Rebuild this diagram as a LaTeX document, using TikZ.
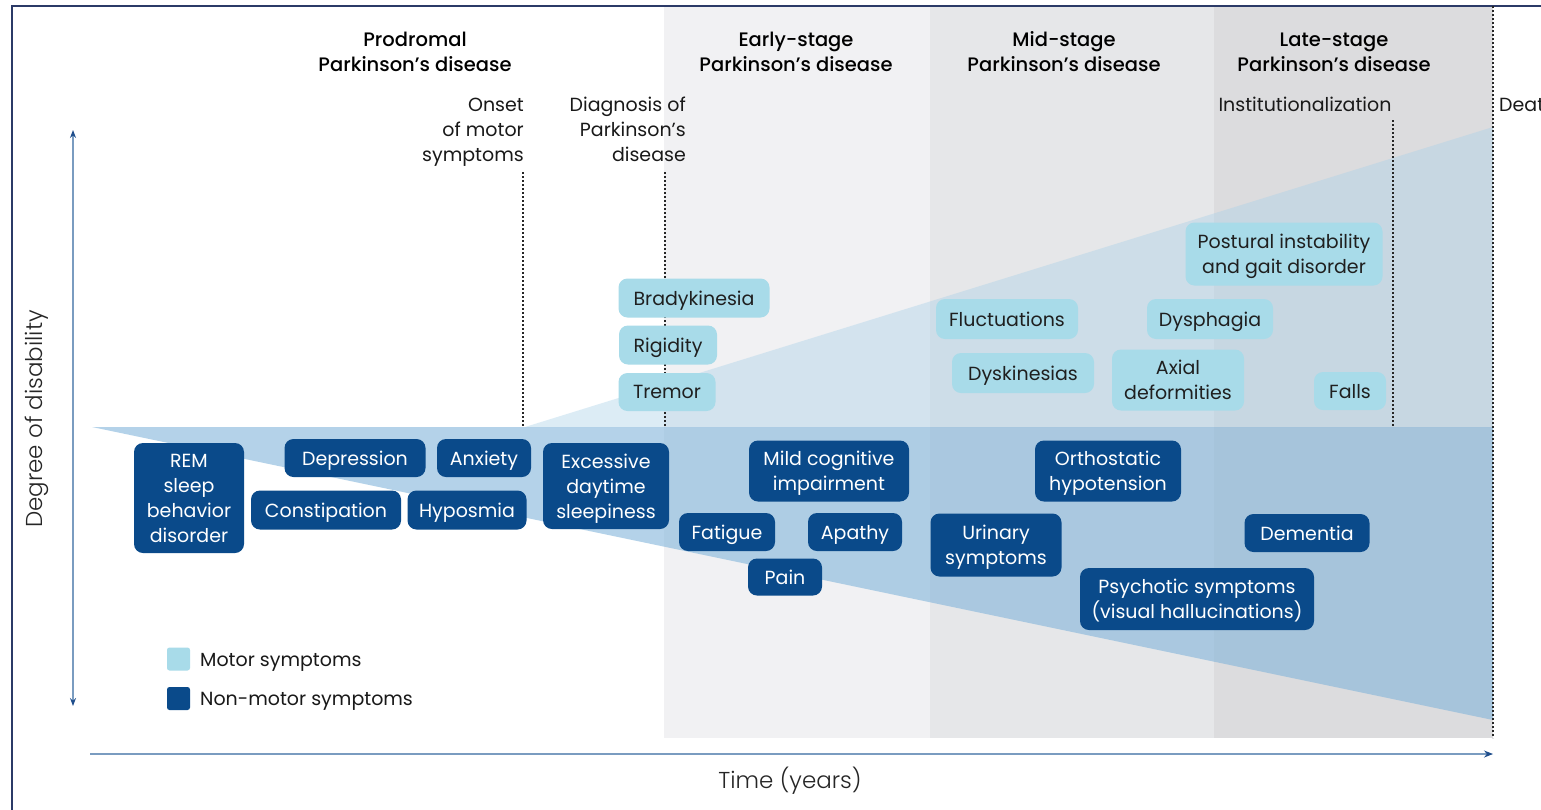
\documentclass[tikz,border=0pt]{standalone}
\usepackage{fontspec}
\setmainfont{Poppins}[BoldFont={Poppins Medium}]
\newfontfamily\plight{Poppins Light}
\usetikzlibrary{arrows.meta}
\definecolor{frame}{HTML}{2B3A67}
\definecolor{earlybg}{HTML}{F1F1F3}
\definecolor{midbg}{HTML}{E6E7E9}
\definecolor{latebg}{HTML}{DCDCDE}
\definecolor{motorc}{HTML}{A8DBE9}
\definecolor{nonmotorc}{HTML}{0A4A8A}
\definecolor{motortri}{HTML}{A8D0E8}
\definecolor{nmshape}{HTML}{7FB3DA}
\definecolor{axisc}{HTML}{7A9CC0}
\definecolor{arrowc}{HTML}{1F4E8C}
\tikzset{
  sym/.style={rounded corners=9pt, align=center, inner sep=0pt, text depth=0pt, font=\fontsize{19}{25}\selectfont},
  motor/.style={sym, fill=motorc, text=black!88},
  nonmotor/.style={sym, fill=nonmotorc, text=white},
  title/.style={font=\bfseries\fontsize{19.5}{25}\selectfont, align=center, text=black},
  event/.style={font=\fontsize{19}{25}\selectfont, text=black!90},
  dotline/.style={line width=1.5pt, dash pattern=on 2pt off 2pt, black!85},
  axisline/.style={line width=1.2pt, axisc},
}
\begin{document}
\begin{tikzpicture}[x=1pt,y=-1pt]
\useasboundingbox (0,0) rectangle (1541,809);
\fill[white] (0,0) rectangle (1541,809);
% stage backgrounds
\fill[earlybg] (664,6) rectangle (930,738);
\fill[midbg] (930,6) rectangle (1214,738);
\fill[latebg] (1214,6) rectangle (1493,738);
% frame
\draw[frame, line width=1.8pt] (12,820) -- (12,6) -- (1560,6);
% disability shapes
\fill[motortri, opacity=0.4] (525,427) -- (1493,127) -- (1493,427) -- cycle;
\fill[nmshape, opacity=0.58] (92,427) -- (1493,427) -- (1493,720) -- cycle;
% dotted event lines
\coordinate (onsetT) at (523,172); \coordinate (onsetB) at (523,427);
\coordinate (diagT) at (665,172); \coordinate (diagB) at (665,427);
\coordinate (instT) at (1393,120); \coordinate (instB) at (1393,427);
\coordinate (deathT) at (1493,6); \coordinate (deathB) at (1493,738);
\draw[dotline] (onsetT) -- (onsetB);
\draw[dotline] (diagT) -- (diagB);
\draw[dotline] (instT) -- (instB);
\draw[dotline] (deathT) -- (deathB);
% axes
\coordinate (yTop) at (73,130); \coordinate (yBot) at (73,706);
\coordinate (xL) at (90,754); \coordinate (xR) at (1493,754);
\draw[axisline, {Stealth[length=8pt,width=6pt,color=arrowc]}-{Stealth[length=8pt,width=6pt,color=arrowc]}] (yBot) -- (yTop);
\draw[axisline, -{Stealth[length=9pt,width=7pt,color=arrowc]}] (xL) -- (xR);
\node[rotate=90, font=\plight\fontsize{23}{27}\selectfont, text=black!85] (ylab) at (37,419) {Degree of disability};
\node[font=\plight\fontsize{23}{27}\selectfont, text=black!85] (xlab) at (790,781) {Time (years)};
% titles
\node[title] (tpro) at (415,52) {Prodromal\\Parkinson’s disease};
\node[title] (tearly) at (796,52) {Early-stage\\Parkinson’s disease};
\node[title] (tmid) at (1064,52) {Mid-stage\\Parkinson’s disease};
\node[title] (tlate) at (1334,52) {Late-stage\\Parkinson’s disease};
% events
\node[event, align=right, anchor=east, inner sep=0pt] (onset) at (524,132) {Onset\\of motor\\symptoms};
\node[event, align=right, anchor=east, inner sep=0pt] (diag) at (686,129.5) {Diagnosis of\\Parkinson’s\\disease};
\node[event] (inst) at (1305,104.5) {Institutionalization};
\node[event, anchor=west, inner sep=0pt] (death) at (1499,104.5) {Death};
% motor symptoms
\node[motor, minimum width=151pt, minimum height=39pt] (brady) at (694,298) {Bradykinesia};
\node[motor, minimum width=98pt, minimum height=39pt] (rigid) at (668,345) {Rigidity};
\node[motor, minimum width=97pt, minimum height=38pt] (tremor) at (667,392) {Tremor};
\node[motor, minimum width=197pt, minimum height=63pt] (postural) at (1284,254) {Postural instability\\and gait disorder};
\node[motor, minimum width=142pt, minimum height=40pt] (fluct) at (1007,319) {Fluctuations};
\node[motor, minimum width=126pt, minimum height=40pt] (dysph) at (1210,319) {Dysphagia};
\node[motor, minimum width=142pt, minimum height=40pt] (dyskin) at (1023,373) {Dyskinesias};
\node[motor, minimum width=132pt, minimum height=61pt] (axial) at (1178,380) {Axial\\deformities};
\node[motor, minimum width=72pt, minimum height=38pt] (falls) at (1350,391) {Falls};
% non-motor symptoms
\node[nonmotor, minimum width=110pt, minimum height=110pt] (rem) at (189,498) {REM\\sleep\\behavior\\disorder};
\node[nonmotor, minimum width=141pt, minimum height=38pt] (depr) at (355,458) {Depression};
\node[nonmotor, minimum width=94pt, minimum height=38pt] (anx) at (484,458) {Anxiety};
\node[nonmotor, minimum width=150pt, minimum height=39pt] (const) at (326,510) {Constipation};
\node[nonmotor, minimum width=119pt, minimum height=39pt] (hypos) at (467,510) {Hyposmia};
\node[nonmotor, minimum width=126pt, minimum height=86pt] (eds) at (606,486) {Excessive\\daytime\\sleepiness};
\node[nonmotor, minimum width=160pt, minimum height=61pt] (mci) at (829,471) {Mild cognitive\\impairment};
\node[nonmotor, minimum width=96pt, minimum height=38pt] (fatig) at (727,532) {Fatigue};
\node[nonmotor, minimum width=94pt, minimum height=38pt] (apathy) at (855,532) {Apathy};
\node[nonmotor, minimum width=74pt, minimum height=37pt] (pain) at (785,577) {Pain};
\node[nonmotor, minimum width=146pt, minimum height=61pt] (ortho) at (1108,471) {Orthostatic\\hypotension};
\node[nonmotor, minimum width=131pt, minimum height=63pt] (urin) at (996,545) {Urinary\\symptoms};
\node[nonmotor, minimum width=125pt, minimum height=38pt] (dement) at (1307,533) {Dementia};
\node[nonmotor, minimum width=234pt, minimum height=62pt] (psych) at (1197,599) {Psychotic symptoms\\(visual hallucinations)};
% legend
\node[fill=motorc, rounded corners=2.5pt, minimum size=23pt, inner sep=0pt] (legm) at (178.5,659) {};
\node[fill=nonmotorc, rounded corners=2.5pt, minimum size=23pt, inner sep=0pt] (legn) at (178.5,698.5) {};
\node[event, anchor=west, inner sep=0pt] (legmt) at (200,662) {Motor symptoms};
\node[event, anchor=west, inner sep=0pt] (legnt) at (200,701.5) {Non-motor symptoms};
\end{tikzpicture}
\end{document}
